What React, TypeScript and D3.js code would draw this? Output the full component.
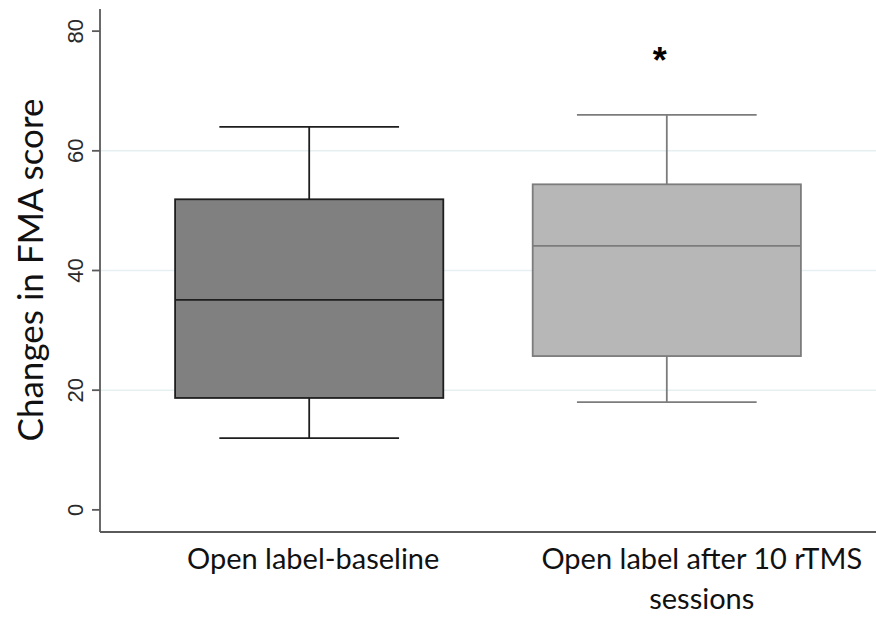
import { useEffect, useRef } from "react";
import * as d3 from "d3";

// box-plot summaries
const groups = ["baseline", "after10"];
const groupLabels = [["Open label-baseline"], ["Open label after 10 rTMS", "sessions"]];
const mins = [12, 18];
const q1s = [18.7, 25.7];
const medians = [35.1, 44.1];
const q3s = [51.9, 54.4];
const maxs = [64, 66];
const yTicks = [0, 20, 40, 60, 80];
const gridTicks = [20, 40, 60];
const fills = ["#808080", "#b7b7b7"];
const strokes = ["#1e1e1e", "#7c7c7c"];
const labelShift = [4, 35]; // text of second label sits right of box centre
const starGroup = "after10";

const W = 876;
const H = 620;

export default function App() {
  const svgRef = useRef<SVGSVGElement>(null);

  useEffect(() => {
    const svg = d3.select(svgRef.current);
    svg.selectAll("*").remove();

    const left = 100,
      right = W,
      top = 9,
      bottom = 532;

    const x = d3
      .scaleBand()
      .domain(groups)
      .range([left, right])
      .paddingInner(0.25)
      .paddingOuter(0.21);

    const y = d3.scaleLinear().domain([-3.7, 83.7]).range([bottom, top]);

    // gridlines
    svg
      .append("g")
      .selectAll("line")
      .data(gridTicks)
      .enter()
      .append("line")
      .attr("x1", left)
      .attr("x2", right)
      .attr("y1", (d) => y(d))
      .attr("y2", (d) => y(d))
      .attr("stroke", "#e6eff1")
      .attr("stroke-width", 1.5);

    // y axis
    const yAxis = svg.append("g").attr("transform", `translate(${left},0)`);
    yAxis
      .append("line")
      .attr("y1", top)
      .attr("y2", bottom)
      .attr("stroke", "#5a5a5a")
      .attr("stroke-width", 1.8);
    const ticks = yAxis.selectAll(".tick").data(yTicks).enter().append("g");
    ticks
      .append("line")
      .attr("x1", -8)
      .attr("x2", 0)
      .attr("y1", (d) => y(d))
      .attr("y2", (d) => y(d))
      .attr("stroke", "#5a5a5a")
      .attr("stroke-width", 1.8);
    ticks
      .append("text")
      .attr("transform", (d) => `translate(-17,${y(d)}) rotate(-90)`)
      .attr("text-anchor", "middle")
      .attr("font-family", "Liberation Sans, Arial, sans-serif")
      .attr("font-size", 22)
      .attr("fill", "#2a2a2a")
      .text((d) => d);

    // x axis
    svg
      .append("line")
      .attr("x1", left)
      .attr("x2", right)
      .attr("y1", bottom)
      .attr("y2", bottom)
      .attr("stroke", "#5a5a5a")
      .attr("stroke-width", 1.8);

    // y title
    svg
      .append("text")
      .attr("transform", `translate(43,270) rotate(-90)`)
      .attr("text-anchor", "middle")
      .attr("font-family", "Lato, sans-serif")
      .attr("font-size", 35)
      .attr("fill", "#111")
      .text("Changes in FMA score");

    // boxes
    const bw = x.bandwidth();
    const capW = bw * 0.67;
    groups.forEach((g, i) => {
      const cx = (x(g) || 0) + bw / 2;
      const bx = svg.append("g");
      bx.append("line")
        .attr("x1", cx)
        .attr("x2", cx)
        .attr("y1", y(maxs[i]))
        .attr("y2", y(mins[i]))
        .attr("stroke", strokes[i])
        .attr("stroke-width", 1.8);
      bx.append("rect")
        .attr("x", x(g) || 0)
        .attr("width", bw)
        .attr("y", y(q3s[i]))
        .attr("height", y(q1s[i]) - y(q3s[i]))
        .attr("fill", fills[i])
        .attr("stroke", strokes[i])
        .attr("stroke-width", 1.8);
      bx.append("line")
        .attr("x1", x(g) || 0)
        .attr("x2", (x(g) || 0) + bw)
        .attr("y1", y(medians[i]))
        .attr("y2", y(medians[i]))
        .attr("stroke", strokes[i])
        .attr("stroke-width", 1.8);
      [mins[i], maxs[i]].forEach((v) => {
        bx.append("line")
          .attr("x1", cx - capW / 2)
          .attr("x2", cx + capW / 2)
          .attr("y1", y(v))
          .attr("y2", y(v))
          .attr("stroke", strokes[i])
          .attr("stroke-width", 1.8);
      });

      // category label
      const t = svg
        .append("text")
        .attr("text-anchor", "middle")
        .attr("font-family", "Lato, sans-serif")
        .attr("font-size", 29)
        .attr("fill", "#111");
      groupLabels[i].forEach((line, k) => {
        t.append("tspan")
          .attr("x", cx + labelShift[i])
          .attr("y", 569 + k * 40)
          .text(line);
      });

      if (g === starGroup) {
        svg
          .append("text")
          .attr("x", cx - 7)
          .attr("y", 73)
          .attr("text-anchor", "middle")
          .attr("font-family", "Liberation Sans, Arial, sans-serif")
          .attr("font-weight", "bold")
          .attr("font-size", 36)
          .attr("fill", "#000")
          .text("*");
      }
    });
  }, []);

  return (
    <div style={{ position: "absolute", left: 0, top: 0 }}>
      <svg ref={svgRef} width={W} height={H} style={{ display: "block", background: "#fff" }}></svg>
    </div>
  );
}
